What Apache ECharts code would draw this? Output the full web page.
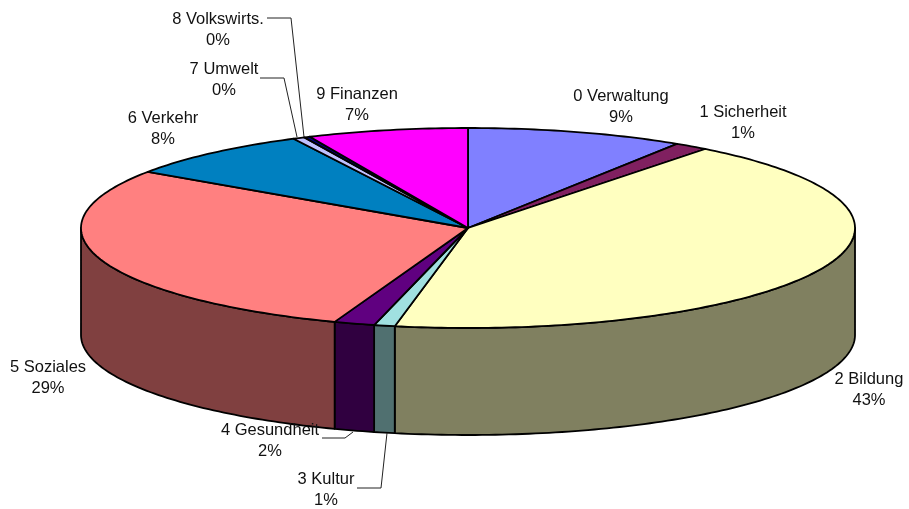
<!DOCTYPE html>
<html>
<head>
<meta charset="utf-8">
<style>
  html, body { margin: 0; padding: 0; background: #fff; }
  #chart { width: 909px; height: 509px; }
</style>
<script src="https://cdn.jsdelivr.net/npm/echarts@6/dist/echarts.min.js"></script>
</head>
<body>
<div id="chart"></div>
<script>
const categories = ['0 Verwaltung', '1 Sicherheit', '2 Bildung', '3 Kultur', '4 Gesundheit', '5 Soziales', '6 Verkehr', '7 Umwelt', '8 Volkswirts.', '9 Finanzen']
const values = [9.08, 1.42, 42.53, 0.87, 1.7, 28.9, 8.06, 0.49, 0.25, 6.7]
const topColors = ['#8080ff', '#802060', '#ffffc0', '#a0e0e0', '#600080', '#ff8080', '#0080c0', '#c0c0ff', '#000080', '#ff00ff']
const sideColors = ['#404080', '#401030', '#808060', '#507070', '#300040', '#804040', '#004060', '#606080', '#000040', '#800080']

// label centres (x, middle of the two lines y), in pixels
const labelPos = [[621, 107], [743, 123], [869, 390], [326, 490], [270, 441], [48, 378], [163, 129], [224, 80], [218, 30], [357, 105]]
// leader lines, only the small slices have one
const leaders = [
  [[267, 18], [291, 18], [304, 137]],
  [[260, 78], [284, 78], [297, 137]],
  [[322, 438], [345, 438], [353, 432]],
  [[357, 488], [381, 488], [387, 433]]
]

const depth = 1.07 // height of the disc in y axis units
const total = values.reduce((a, b) => a + b, 0)

// slices as [startAngle, endAngle, index], clockwise from 12 o'clock
let acc = 0
const slices = values.map((v, i) => {
  const s = acc / total * 360
  acc += v
  return [s, acc / total * 360, i]
})

const onRim = (deg, drop) => {
  const a = deg * Math.PI / 180
  return [Math.sin(a), Math.cos(a) - drop]
}

const arc = (from, to, drop) => {
  const pts = []
  const n = Math.max(2, Math.ceil(Math.abs(to - from)))
  for (let k = 0; k <= n; k++) pts.push(onRim(from + (to - from) * k / n, drop))
  return pts
}

const renderWall = (params, api) => {
  const from = Math.max(api.value(0), 90)
  const to = Math.min(api.value(1), 270)
  if (to <= from) return { type: 'group', children: [] }
  const pts = arc(from, to, 0).concat(arc(to, from, depth))
  return {
    type: 'polygon',
    shape: { points: pts.map(p => api.coord(p)) },
    style: { fill: sideColors[api.value(2)], stroke: '#000', lineWidth: 1.8, lineJoin: 'round' }
  }
}

const renderTop = (params, api) => {
  const pts = [[0, 0]].concat(arc(api.value(0), api.value(1), 0))
  return {
    type: 'polygon',
    shape: { points: pts.map(p => api.coord(p)) },
    style: { fill: topColors[api.value(2)], stroke: '#000', lineWidth: 1.8, lineJoin: 'round' }
  }
}

const labelItems = categories.map((name, i) => ({
  type: 'text',
  x: labelPos[i][0],
  y: labelPos[i][1],
  z: 100,
  style: {
    text: name + '\n' + Math.round(values[i]) + '%',
    fill: '#111',
    font: '16.5px "Liberation Sans", Arial, sans-serif',
    lineHeight: 21.5,
    align: 'center',
    verticalAlign: 'middle'
  }
}))

const leaderItems = leaders.map(line => ({
  type: 'polyline',
  z: 99,
  shape: { points: line },
  style: { fill: null, stroke: '#222', lineWidth: 1 }
}))

const myChart = echarts.init(document.getElementById('chart'), null, { renderer: 'canvas' })
myChart.setOption({
  animation: false,
  backgroundColor: '#fff',
  grid: { left: 81, top: 128, width: 774, height: 200 },
  xAxis: { type: 'value', min: -1, max: 1, show: false },
  yAxis: { type: 'value', min: -1, max: 1, show: false },
  graphic: { elements: labelItems.concat(leaderItems) },
  series: [
    { type: 'custom', clip: false, silent: true, z: 2, data: slices, renderItem: renderWall },
    { type: 'custom', clip: false, silent: true, z: 3, data: slices, renderItem: renderTop }
  ]
})
</script>
</body>
</html>
